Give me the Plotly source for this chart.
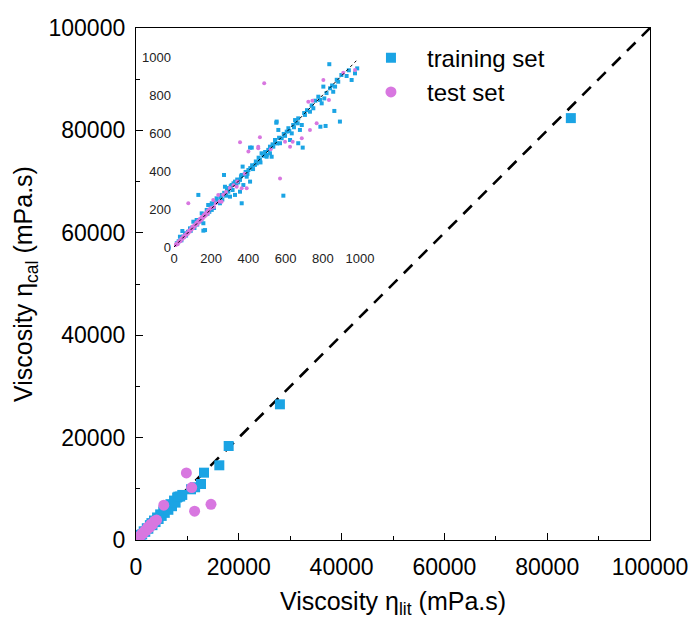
import plotly.graph_objects as go

# ---- main panel: full viscosity range (mPa.s) ----
train_lit = [300, 600, 900, 1200, 1500, 1800, 2100, 2400, 2700, 3000, 3200, 3500, 3800,
             4100, 4400, 4700, 5000, 5300, 5600, 6000, 6300, 6700, 7000, 7400, 7700,
             8000, 8230, 8600, 9000, 10700, 11500, 12650, 13230, 16210, 18030, 28000, 84600]
train_cal = [400, 500, 1000, 1100, 1700, 1600, 2300, 2200, 2900, 3300, 2900, 3800, 3500,
             4400, 4100, 5000, 4700, 5600, 5300, 6200, 5900, 7000, 6600, 7700, 7300,
             8300, 8460, 8500, 8800, 9900, 10300, 10940, 13150, 14590, 18360, 26500, 82400]

test_lit = [200, 500, 800, 1100, 1400, 1700, 2000, 2300, 2600, 2900, 3200, 3600, 4000,
            5400, 9800, 10830, 11400, 14590]
test_cal = [150, 600, 700, 1200, 1300, 1800, 1900, 2500, 2400, 3100, 3000, 3700, 3900,
            6800, 13100, 10250, 5630, 6970]

# ---- inset: zoom on 0-1000 mPa.s ----
inset_train = [
    (15, 20), (25, 30), (32, 54), (40, 35), (45, 84), (50, 55), (59, 72), (65, 60), (75, 80),
    (86, 98), (90, 85), (100, 105), (104, 133), (110, 100), (122, 142), (125, 118), (131, 274),
    (140, 135), (149, 177), (150, 150), (158, 125), (158, 86), (165, 170), (167, 89), (176, 195),
    (180, 175), (184, 221), (190, 185), (200, 210), (203, 230), (203, 195), (215, 205), (220, 235),
    (229, 256), (235, 240), (247, 230), (250, 262), (256, 274), (260, 250), (269, 379), (270, 285),
    (274, 317), (280, 270), (285, 300), (292, 291), (295, 310), (301, 265), (305, 320), (310, 326),
    (315, 300), (320, 335), (328, 344), (328, 274), (335, 330), (340, 355), (345, 340), (355, 353),
    (355, 291), (360, 372), (364, 379), (364, 230), (369, 423), (373, 326), (378, 380), (385, 395),
    (391, 370), (395, 385), (400, 405), (409, 344), (409, 523), (410, 415), (418, 523), (420, 430),
    (425, 410), (435, 432), (440, 450), (445, 440), (455, 470), (462, 458), (465, 445), (471, 493),
    (480, 480), (490, 500), (498, 484), (498, 475), (507, 511), (516, 528), (516, 493), (525, 475),
    (530, 540), (534, 528), (543, 563), (545, 550), (550, 654), (552, 660), (555, 545), (561, 616),
    (565, 575), (570, 546), (579, 572), (588, 270), (590, 595), (597, 585), (606, 607), (615, 625),
    (620, 610), (624, 563), (633, 598), (641, 642), (645, 630), (651, 668), (655, 655), (665, 651),
    (668, 677), (668, 546), (677, 616), (687, 642), (692, 523), (700, 705), (704, 695), (715, 720),
    (731, 712), (740, 745), (749, 730), (760, 770), (776, 791), (785, 774), (787, 633), (794, 756),
    (803, 844), (808, 782), (815, 637), (820, 810), (835, 962), (839, 835), (850, 850), (856, 817),
    (862, 716), (866, 844), (875, 880), (883, 870), (892, 660), (900, 905), (928, 900), (940, 930),
    (955, 879), (973, 914), (985, 940),
]
inset_test = [
    (5, 8), (10, 12), (15, 18), (20, 15), (25, 28), (30, 32), (35, 30), (40, 45), (45, 42),
    (50, 55), (55, 50), (60, 65), (65, 62), (70, 75), (75, 70), (77, 230), (80, 85), (85, 80),
    (90, 95), (95, 92), (100, 108), (105, 100), (110, 115), (115, 112), (120, 128), (125, 120),
    (130, 138), (135, 130), (140, 148), (145, 140), (150, 158), (155, 150), (160, 168), (165, 160),
    (170, 178), (175, 170), (180, 190), (185, 180), (190, 198), (200, 205), (211, 247), (215, 210),
    (225, 230), (238, 274), (245, 240), (256, 238), (265, 275), (280, 290), (300, 310), (320, 325),
    (337, 317), (340, 345), (355, 551), (364, 309), (380, 385), (391, 309), (400, 502), (453, 519),
    (453, 528), (462, 577), (485, 862), (520, 515), (570, 361), (597, 554), (624, 528), (638, 554),
    (687, 572), (722, 765), (731, 616), (744, 770), (767, 651), (803, 879), (833, 774), (910, 917),
    (973, 932),
]

main_ticks = [0, 20000, 40000, 60000, 80000, 100000]
inset_ticks = [0, 200, 400, 600, 800, 1000]

BLUE = "#1ba4e4"
VIOLET = "#d877e0"
FONT = "Arial, Liberation Sans, sans-serif"

fig = go.Figure()

# parity line, main panel
fig.add_trace(go.Scatter(x=[0, 100000], y=[0, 100000], mode="lines",
                         line=dict(color="black", width=2.6, dash="12px,9px"),
                         showlegend=False, hoverinfo="skip"))
fig.add_trace(go.Scatter(x=train_lit, y=train_cal, mode="markers", name="training set",
                         marker=dict(symbol="square", size=10, color=BLUE)))
fig.add_trace(go.Scatter(x=test_lit, y=test_cal, mode="markers", name="test set",
                         marker=dict(symbol="circle", size=11, color=VIOLET)))

# inset panel
fig.add_trace(go.Scatter(x=[p[0] for p in inset_train], y=[p[1] for p in inset_train],
                         mode="markers", xaxis="x2", yaxis="y2", showlegend=False,
                         marker=dict(symbol="square", size=4, color=BLUE)))
fig.add_trace(go.Scatter(x=[p[0] for p in inset_test], y=[p[1] for p in inset_test],
                         mode="markers", xaxis="x2", yaxis="y2", showlegend=False,
                         marker=dict(symbol="circle", size=4, color=VIOLET)))
fig.add_trace(go.Scatter(x=[0, 980], y=[0, 980], mode="lines", xaxis="x2", yaxis="y2",
                         line=dict(color="black", width=1, dash="3px,3px"),
                         showlegend=False, hoverinfo="skip"))

axis_common = dict(
    showgrid=False, zeroline=False, showline=True, linecolor="black", linewidth=1.3,
    mirror=True, ticks="inside", ticklen=7, tickwidth=1.2, tickcolor="black",
    range=[0, 100000], tickvals=main_ticks, tickformat="d", automargin=False,
    minor=dict(ticks="inside", ticklen=4, tickwidth=1, tickcolor="black", dtick=10000, tick0=0),
    tickfont=dict(size=23, color="black", family=FONT),
)
inset_common = dict(
    showgrid=False, zeroline=False, showline=False, ticks="", range=[0, 1000],
    tickvals=inset_ticks, automargin=False,
    tickfont=dict(size=13, color="#222", family=FONT),
)

fig.update_layout(
    width=691, height=619,
    margin=dict(l=136, r=41, t=28, b=79, autoexpand=False),
    paper_bgcolor="white", plot_bgcolor="white",
    font=dict(family=FONT, color="black"),
    xaxis=dict(axis_common, ticklabelstandoff=6,
               title=dict(text="Viscosity η<sub>lit</sub> (mPa.s)", font=dict(size=25), standoff=16)),
    yaxis=dict(axis_common, ticklabelstandoff=5,
               title=dict(text="Viscosity η<sub>cal</sub> (mPa.s)", font=dict(size=25), standoff=8)),
    xaxis2=dict(inset_common, domain=[0.0739, 0.4358], anchor="y2", ticklabelstandoff=2),
    yaxis2=dict(inset_common, domain=[0.5723, 0.9434], anchor="x2", ticklabelstandoff=2),
    legend=dict(x=0.426, y=0.985, xanchor="left", yanchor="top",
                bgcolor="rgba(0,0,0,0)", font=dict(size=24, color="black"),
                itemwidth=62, tracegroupgap=2),
    showlegend=True,
)

fig.write_html("out.html")
